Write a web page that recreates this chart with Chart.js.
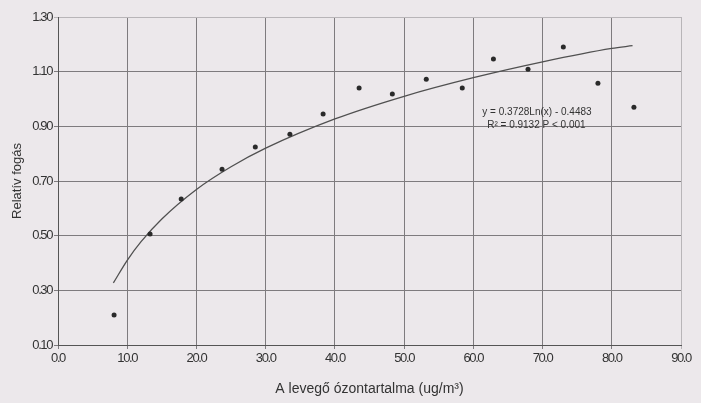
<!DOCTYPE html>
<html><head><meta charset="utf-8">
<script src="https://cdn.jsdelivr.net/npm/chart.js@4.4.0/dist/chart.umd.min.js"></script>
<style>html,body{margin:0;padding:0;background:#ece8eb;} #wrap{width:701px;height:403px;position:relative}</style>
</head><body><div id="wrap"><canvas id="c" width="701" height="403"></canvas></div>
<script>
// Measured data (x as on axis: 0.0 ... 90.0)
const ozone    = [8.1, 13.3, 17.8, 23.7, 28.5, 33.5, 38.3, 43.5, 48.3, 53.2, 58.4, 62.9, 67.9, 73.0, 78.0, 83.2];
const relCatch = [0.21, 0.506, 0.634, 0.743, 0.824, 0.871, 0.945, 1.04, 1.018, 1.072, 1.04, 1.146, 1.109, 1.19, 1.058, 0.97];
// Trend curve
const fitX = [8, 10, 12, 15, 20, 25, 30, 40, 50, 60, 70, 80, 83];
const fitY = [0.327, 0.410, 0.478, 0.561, 0.669, 0.752, 0.820, 0.927, 1.010, 1.078, 1.136, 1.185, 1.195];
const xTicks = [0, 10, 20, 30, 40, 50, 60, 70, 80, 90];
const xTickLabels = ['0.0', '10.0', '20.0', '30.0', '40.0', '50.0', '60.0', '70.0', '80.0', '90.0'];
const yTicks = [0.10, 0.30, 0.50, 0.70, 0.90, 1.10, 1.30];
const yTickLabels = ['0.10', '0.30', '0.50', '0.70', '0.90', '1.10', '1.30'];
const eqLines = ['y = 0.3728Ln(x) - 0.4483', 'R\u00B2 = 0.9132 P < 0.001'];

const FONT = "'Liberation Sans', Arial, sans-serif";

const condense = {
  id: 'condense',
  beforeDraw(chart) {
    for (const s of Object.values(chart.scales)) {
      if (!s._condensed) {
        const orig = s.drawLabels.bind(s);
        s.drawLabels = function (area) {
          const c = this.ctx; const p = c.letterSpacing;
          c.letterSpacing = '-1.4px'; orig(area); c.letterSpacing = p;
        };
        s._condensed = true;
      }
    }
  }
};

const equation = {
  id: 'equation',
  afterDatasetsDraw(chart) {
    const c = chart.ctx, xs = chart.scales.x, ys = chart.scales.y;
    c.save();
    c.font = '10px ' + FONT;
    c.fillStyle = '#333';
    c.textBaseline = 'middle';
    c.textAlign = 'left';
    c.fillText(eqLines[0], xs.getPixelForValue(61.3), ys.getPixelForValue(0.952));
    c.fillText(eqLines[1], xs.getPixelForValue(62.0), ys.getPixelForValue(0.905));
    c.restore();
  }
};

new Chart(document.getElementById('c'), {
  type: 'scatter',
  data: {
    datasets: [
      {
        type: 'line',
        data: fitX.map((x, i) => ({x, y: fitY[i]})),
        borderColor: '#505050',
        borderWidth: 1.3,
        pointRadius: 0,
        fill: false,
        cubicInterpolationMode: 'monotone',
        order: 2
      },
      {
        data: ozone.map((x, i) => ({x, y: relCatch[i]})),
        backgroundColor: '#2a2a2a',
        borderColor: '#2a2a2a',
        pointRadius: 2.5,
        pointBorderWidth: 0,
        order: 1
      }
    ]
  },
  options: {
    responsive: false,
    animation: false,
    layout: { padding: { left: 0, top: 17, right: 20, bottom: 0 } },
    plugins: { legend: { display: false }, tooltip: { enabled: false } },
    scales: {
      x: {
        type: 'linear', min: 0, max: 90,
        afterBuildTicks: s => { s.ticks = xTicks.map(v => ({value: v})); },
        afterFit: s => { s.height = 58; },
        ticks: {
          callback: (v, i) => xTickLabels[i],
          font: { family: FONT, size: 13 }, color: '#333', padding: 2, maxRotation: 0, autoSkip: false
        },
        grid: {
          color: ctx => (ctx.index === xTicks.length - 1 ? '#b8b5b8' : '#7e7b7e'),
          lineWidth: 1, tickLength: 4
        },
        border: { color: '#555', width: 1 },
        title: {
          display: true, text: 'A levegő ózontartalma (ug/m\u00B3)',
          font: { family: FONT, size: 14 }, color: '#333', padding: { top: 0, bottom: 5 }
        }
      },
      y: {
        type: 'linear', min: 0.10, max: 1.30,
        afterBuildTicks: s => { s.ticks = yTicks.map(v => ({value: v})); },
        afterFit: s => { s.width = 58; },
        ticks: {
          callback: (v, i) => yTickLabels[i],
          font: { family: FONT, size: 13 }, color: '#333', padding: 2, autoSkip: false
        },
        grid: {
          color: ctx => (ctx.index === yTicks.length - 1 ? '#b8b5b8' : '#7e7b7e'),
          lineWidth: 1, tickLength: 4
        },
        border: { color: '#555', width: 1 },
        title: {
          display: true, text: 'Relatív fogás',
          font: { family: FONT, size: 13 }, color: '#333', padding: { top: 10, bottom: 0 }
        }
      }
    }
  },
  plugins: [condense, equation]
});
</script>
</body></html>
